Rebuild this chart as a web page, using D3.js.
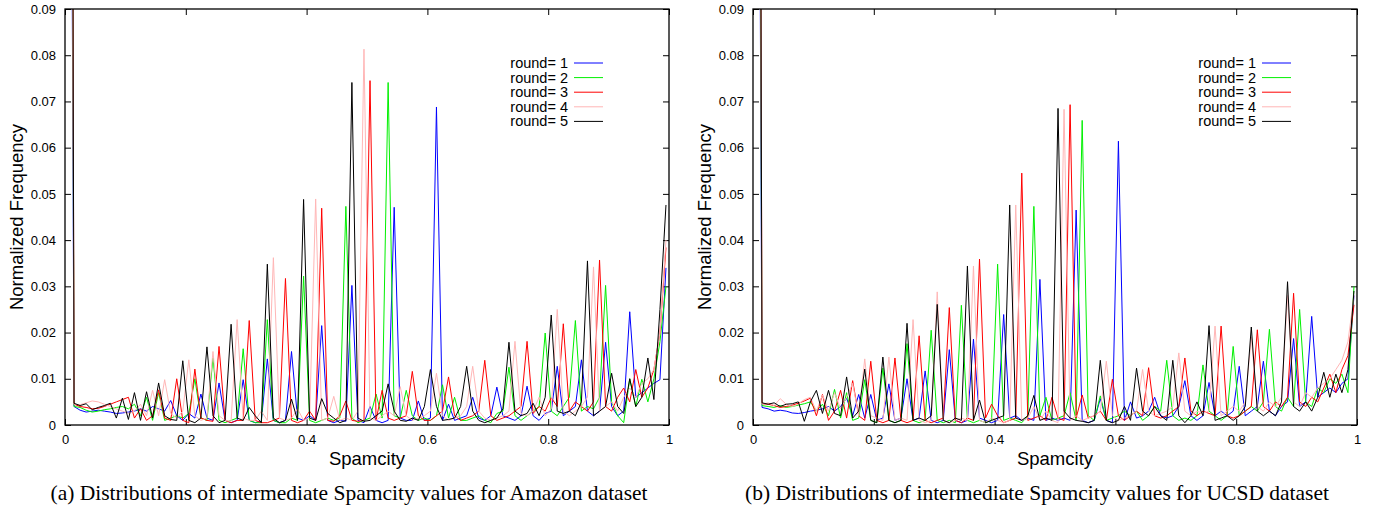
<!DOCTYPE html>
<html>
<head>
<meta charset="utf-8">
<title>Spamcity distributions</title>
<style type="text/css">
    body{ margin: 0; background: #fff; }
    .tick text{ font-family: "Liberation Sans", Arial, sans-serif; font-size: 13px; fill: #000; }
    .tick line{ stroke: #000; }
    .domain{ display: none; }
    .frame{ fill: none; stroke: #000; stroke-width: 1.3px; }
    .series{ fill: none; stroke-width: 1px; stroke-linejoin: miter; }
    .axis-label{ font-family: "Liberation Sans", Arial, sans-serif; font-size: 18.5px; fill: #000; }
    .legend text{ font-family: "Liberation Sans", Arial, sans-serif; font-size: 14.5px; fill: #000; }
    .caption{ font-family: "Liberation Serif", "Times New Roman", serif; font-size: 21.5px; fill: #000; }
</style>
</head>
<body>
<div id="chart"></div>
<script src="https://cdn.jsdelivr.net/npm/d3@7"></script>
<script>
// bin centres of the histogram (0.005, 0.015, ..., 0.995)
var binCenters = d3.range(100).map(i => +(0.005 + i * 0.01).toFixed(3));

var roundNames = ["round= 1", "round= 2", "round= 3", "round= 4", "round= 5"];
var roundColors = ["#0000ff", "#00f000", "#ff0000", "#ffb6b6", "#000000"];

var xTicks = [0, 0.2, 0.4, 0.6, 0.8, 1];
var yTicks = [0, 0.01, 0.02, 0.03, 0.04, 0.05, 0.06, 0.07, 0.08, 0.09];

// ---- (a) Amazon ----
var amazonRound1 = [0.3,.0040,.0032,.0028,.0030,.0032,.0030,.0028,.0025,.0026,.0028,.0030,.0035,.0030,.0040,.0035,.0030,.0053,.0020,.0010,
    .0025,.0015,.0067,.0015,.0010,.0091,.0010,.0005,.0010,.0098,.0010,.0005,.0008,.0143,.0010,.0005,.0010,.0159,.0015,.0010,
    .0020,.0010,.0215,.0010,.0005,.0010,.0008,.0302,.0010,.0005,.0040,.0010,.0005,.0010,.0471,.0015,.0010,.0010,.0052,.0010,
    .0015,.0688,.0010,.0045,.0010,.0015,.0020,.0060,.0015,.0010,.0020,.0082,.0020,.0015,.0010,.0020,.0084,.0020,.0010,.0025,
    .0030,.0127,.0020,.0030,.0040,.0141,.0030,.0020,.0030,.0179,.0040,.0020,.0030,.0245,.0060,.0070,.0080,.0090,.0098,.0340];
var amazonRound2 = [0.4,.0040,.0038,.0032,.0028,.0030,.0033,.0035,.0038,.0040,.0035,.0045,.0020,.0060,.0010,.0070,.0010,.0015,.0020,.0015,
    .0025,.0100,.0015,.0010,.0145,.0010,.0005,.0010,.0015,.0165,.0010,.0005,.0005,.0228,.0010,.0005,.0005,.0015,.0010,.0322,
    .0010,.0005,.0010,.0015,.0010,.0015,.0473,.0015,.0005,.0010,.0015,.0067,.0015,.0741,.0020,.0015,.0075,.0020,.0010,.0015,
    .0010,.0020,.0087,.0015,.0060,.0010,.0010,.0015,.0020,.0010,.0005,.0025,.0030,.0125,.0020,.0010,.0020,.0030,.0040,.0199,
    .0030,.0020,.0040,.0060,.0226,.0030,.0040,.0035,.0060,.0302,.0050,.0020,.0005,.0100,.0040,.0099,.0050,.0100,.0180,.0300];
var amazonRound3 = [0.5,.0045,.0040,.0038,.0035,.0036,.0040,.0045,.0050,.0055,.0060,.0015,.0035,.0010,.0020,.0076,.0015,.0010,.0100,.0010,
    .0005,.0121,.0015,.0010,.0008,.0170,.0010,.0005,.0010,.0010,.0226,.0010,.0005,.0005,.0010,.0015,.0317,.0010,.0005,.0010,
    .0030,.0010,.0469,.0010,.0008,.0020,.0052,.0010,.0008,.0010,.0745,.0010,.0075,.0015,.0010,.0015,.0020,.0116,.0020,.0010,
    .0010,.0020,.0030,.0104,.0020,.0010,.0015,.0020,.0030,.0140,.0020,.0010,.0015,.0020,.0030,.0040,.0181,.0025,.0040,.0030,
    .0059,.0040,.0219,.0030,.0050,.0040,.0030,.0050,.0357,.0040,.0030,.0060,.0080,.0050,.0120,.0060,.0080,.0120,.0200,.0384];
var amazonRound4 = [0.4,.0045,.0044,.0048,.0052,.0050,.0045,.0040,.0035,.0030,.0025,.0030,.0045,.0020,.0075,.0020,.0098,.0025,.0015,.0030,
    .0141,.0020,.0010,.0015,.0159,.0020,.0010,.0008,.0228,.0015,.0010,.0010,.0030,.0010,.0362,.0015,.0010,.0015,.0035,.0010,
    .0015,.0489,.0010,.0015,.0062,.0010,.0015,.0010,.0030,.0813,.0015,.0010,.0020,.0030,.0020,.0083,.0020,.0010,.0015,.0020,
    .0030,.0112,.0020,.0010,.0015,.0020,.0040,.0127,.0030,.0015,.0010,.0015,.0020,.0030,.0181,.0025,.0020,.0030,.0060,.0020,
    .0035,.0250,.0030,.0020,.0030,.0040,.0060,.0342,.0030,.0040,.0050,.0030,.0060,.0080,.0060,.0090,.0100,.0120,.0200,.0400];
var amazonRound5 = [0.5,.0047,.0042,.0046,.0033,.0038,.0042,.0047,.0015,.0058,.0012,.0070,.0010,.0072,.0015,.0091,.0020,.0012,.0010,.0139,
    .0010,.0005,.0015,.0169,.0020,.0005,.0010,.0218,.0015,.0010,.0038,.0020,.0005,.0348,.0015,.0005,.0010,.0056,.0010,.0488,
    .0015,.0010,.0057,.0025,.0015,.0005,.0010,.0741,.0015,.0008,.0010,.0020,.0030,.0089,.0030,.0010,.0008,.0015,.0010,.0040,
    .0120,.0040,.0010,.0012,.0015,.0040,.0127,.0030,.0010,.0005,.0010,.0015,.0035,.0179,.0030,.0020,.0025,.0047,.0020,.0060,
    .0238,.0030,.0025,.0030,.0020,.0050,.0355,.0020,.0030,.0040,.0112,.0040,.0025,.0100,.0040,.0060,.0145,.0055,.0250,.0476];

// ---- (b) UCSD ----
var ucsdRound1 = [0.3,.0038,.0035,.0030,.0032,.0030,.0026,.0025,.0027,.0030,.0032,.0035,.0040,.0030,.0040,.0058,.0020,.0066,.0015,.0066,
    .0010,.0015,.0089,.0010,.0015,.0100,.0010,.0015,.0117,.0010,.0005,.0010,.0163,.0010,.0005,.0010,.0186,.0015,.0010,.0005,
    .0010,.0239,.0015,.0020,.0010,.0015,.0010,.0315,.0010,.0015,.0010,.0015,.0010,.0465,.0010,.0005,.0010,.0057,.0010,.0005,
    .0614,.0010,.0050,.0015,.0020,.0030,.0060,.0020,.0015,.0020,.0040,.0096,.0020,.0010,.0020,.0092,.0020,.0030,.0020,.0030,
    .0127,.0020,.0030,.0040,.0138,.0030,.0020,.0040,.0050,.0187,.0040,.0050,.0235,.0060,.0070,.0080,.0070,.0090,.0100,.0280];
var ucsdRound2 = [0.4,.0042,.0040,.0038,.0042,.0038,.0040,.0043,.0046,.0050,.0030,.0045,.0020,.0077,.0015,.0070,.0010,.0015,.0098,.0010,
    .0005,.0123,.0010,.0005,.0010,.0176,.0010,.0005,.0010,.0205,.0010,.0005,.0010,.0005,.0259,.0010,.0005,.0010,.0005,.0010,
    .0348,.0010,.0015,.0010,.0005,.0020,.0473,.0020,.0060,.0010,.0015,.0020,.0070,.0010,.0659,.0020,.0010,.0063,.0010,.0015,
    .0020,.0030,.0020,.0030,.0010,.0020,.0040,.0030,.0140,.0020,.0010,.0015,.0010,.0020,.0130,.0030,.0020,.0010,.0020,.0170,
    .0020,.0030,.0040,.0030,.0050,.0207,.0040,.0030,.0060,.0040,.0250,.0050,.0040,.0080,.0070,.0100,.0090,.0110,.0070,.0300];
var ucsdRound3 = [0.5,.0046,.0045,.0042,.0038,.0040,.0043,.0047,.0052,.0058,.0020,.0066,.0010,.0030,.0075,.0015,.0096,.0020,.0010,.0138,
    .0010,.0005,.0010,.0145,.0010,.0005,.0010,.0193,.0010,.0005,.0010,.0015,.0254,.0010,.0005,.0015,.0010,.0359,.0015,.0045,
    .0020,.0005,.0010,.0015,.0545,.0010,.0015,.0020,.0010,.0060,.0015,.0010,.0693,.0015,.0065,.0015,.0020,.0030,.0010,.0099,
    .0020,.0010,.0020,.0030,.0020,.0124,.0020,.0015,.0020,.0030,.0040,.0145,.0030,.0020,.0030,.0025,.0020,.0214,.0020,.0015,
    .0020,.0030,.0040,.0206,.0040,.0030,.0050,.0040,.0060,.0285,.0050,.0040,.0060,.0050,.0080,.0110,.0070,.0120,.0150,.0260];
var ucsdRound4 = [0.5,.0045,.0048,.0042,.0057,.0045,.0040,.0045,.0055,.0060,.0030,.0065,.0030,.0070,.0035,.0060,.0090,.0020,.0143,.0020,
    .0015,.0010,.0147,.0010,.0015,.0010,.0228,.0010,.0005,.0010,.0288,.0010,.0005,.0010,.0015,.0010,.0344,.0010,.0005,.0015,
    .0010,.0005,.0010,.0476,.0010,.0015,.0040,.0010,.0030,.0010,.0005,.0683,.0010,.0020,.0010,.0015,.0020,.0030,.0138,.0020,
    .0010,.0015,.0020,.0030,.0120,.0030,.0020,.0025,.0030,.0040,.0156,.0030,.0020,.0030,.0025,.0030,.0214,.0020,.0030,.0040,
    .0030,.0050,.0190,.0040,.0030,.0050,.0040,.0060,.0280,.0050,.0040,.0070,.0060,.0080,.0090,.0100,.0120,.0140,.0180,.0280];
var ucsdRound5 = [0.5,.0048,.0045,.0048,.0040,.0045,.0046,.0050,.0008,.0050,.0075,.0025,.0075,.0025,.0020,.0104,.0015,.0030,.0121,.0010,
    .0005,.0147,.0010,.0005,.0010,.0220,.0010,.0015,.0010,.0020,.0261,.0010,.0005,.0015,.0010,.0344,.0010,.0054,.0005,.0010,
    .0015,.0020,.0476,.0015,.0010,.0020,.0064,.0010,.0015,.0010,.0685,.0030,.0015,.0010,.0008,.0005,.0010,.0140,.0010,.0005,
    .0010,.0040,.0010,.0123,.0030,.0020,.0040,.0020,.0010,.0140,.0020,.0005,.0020,.0050,.0020,.0215,.0010,.0015,.0020,.0010,
    .0020,.0040,.0212,.0030,.0020,.0030,.0020,.0050,.0310,.0040,.0030,.0050,.0030,.0060,.0114,.0060,.0110,.0070,.0120,.0290];

var panels = [
    { left: 65,  series: [amazonRound1, amazonRound2, amazonRound3, amazonRound4, amazonRound5],
      caption: "(a) Distributions of intermediate Spamcity values for Amazon dataset" },
    { left: 753, series: [ucsdRound1, ucsdRound2, ucsdRound3, ucsdRound4, ucsdRound5],
      caption: "(b) Distributions of intermediate Spamcity values for UCSD dataset" }
];

var width = 1380, height = 512;
var plotW = 604, plotTop = 9, plotH = 416;

var svg = d3.select("#chart").append("svg")
    .attr("width", width)
    .attr("height", height);

panels.forEach(function (p, pi) {
    var x = d3.scaleLinear().domain([0, 1]).range([0, plotW]);
    var y = d3.scaleLinear().domain([0, 0.09]).range([plotH, 0]);

    var g = svg.append("g").attr("transform", "translate(" + p.left + "," + plotTop + ")");

    g.append("clipPath").attr("id", "clip" + pi)
        .append("rect").attr("width", plotW).attr("height", plotH);

    //  ticks point inward on all four sides, labels only bottom / left
    g.append("g").attr("transform", "translate(0," + plotH + ")")
        .call(d3.axisBottom(x).tickValues(xTicks).tickSize(-6).tickPadding(10).tickFormat(d => String(d)));
    g.append("g")
        .call(d3.axisTop(x).tickValues(xTicks).tickSize(-6).tickFormat(""));
    g.append("g")
        .call(d3.axisLeft(y).tickValues(yTicks).tickSize(-6).tickPadding(9).tickFormat(d => String(d)));
    g.append("g").attr("transform", "translate(" + plotW + ",0)")
        .call(d3.axisRight(y).tickValues(yTicks).tickSize(-6).tickFormat(""));

    var line = d3.line()
        .x((d, i) => x(binCenters[i]))
        .y(d => y(d));

    g.append("g").attr("clip-path", "url(#clip" + pi + ")")
        .selectAll("path")
        .data(p.series)
        .enter().append("path")
            .attr("class", "series")
            .attr("stroke", (d, i) => roundColors[i])
            .attr("d", line);

    g.append("rect").attr("class", "frame").attr("width", plotW).attr("height", plotH);

    //  legend, top right inside the frame
    var legend = g.append("g").attr("class", "legend")
        .attr("transform", "translate(" + (plotW - 95) + ",54)");
    roundNames.forEach(function (name, i) {
        var row = legend.append("g").attr("transform", "translate(0," + (i * 14.6) + ")");
        row.append("text").attr("x", -6).attr("dy", "0.35em")
            .attr("text-anchor", "end").text(name);
        row.append("line").attr("x1", 0).attr("x2", 29)
            .attr("stroke", roundColors[i]).attr("stroke-width", 1);
    });

    g.append("text").attr("class", "axis-label")
        .attr("text-anchor", "middle")
        .attr("transform", "translate(-42," + (plotH / 2) + ") rotate(-90)")
        .text("Normalized Frequency");

    g.append("text").attr("class", "axis-label")
        .attr("text-anchor", "middle")
        .attr("x", plotW / 2).attr("y", plotH + 40)
        .text("Spamcity");

    g.append("text").attr("class", "caption")
        .attr("text-anchor", "middle")
        .attr("x", plotW / 2 - 18).attr("y", plotH + 75)
        .text(p.caption);
});
</script>
</body>
</html>
